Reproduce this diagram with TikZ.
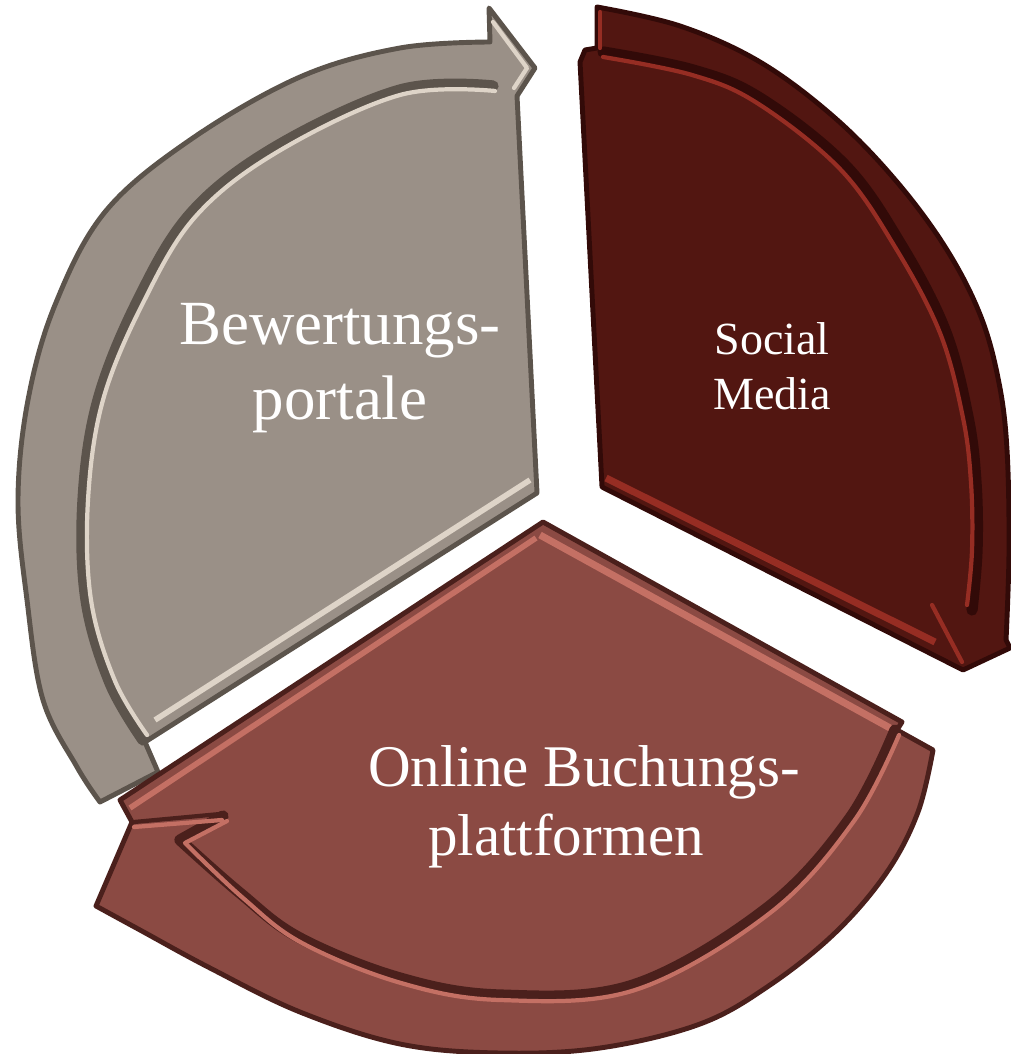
\documentclass[tikz,border=0pt]{standalone}
\usepackage{fontspec}
\setmainfont{Liberation Serif}
\definecolor{grayfill}{RGB}{154,144,135}
\definecolor{grayhi}{RGB}{222,212,200}
\definecolor{graylo}{RGB}{92,84,76}
\definecolor{redfill}{RGB}{82,22,17}
\definecolor{redhi}{RGB}{150,45,35}
\definecolor{redlo}{RGB}{50,10,8}
\definecolor{midfill}{RGB}{139,74,67}
\definecolor{midhi}{RGB}{196,112,100}
\definecolor{midlo}{RGB}{75,32,28}
\tikzset{
  seglabel/.style={text=white, align=center, inner sep=0pt},
  groovelo/.style={line width=3.2pt, line cap=round, line join=round},
  groovehi/.style={line width=1.2pt, line cap=round, line join=round},
  rim/.style={line width=1.4pt, line join=round}
}
\begin{document}
\begin{tikzpicture}[x=0.1mm, y=-0.1mm]
\useasboundingbox (0,0) rectangle (1010,1054);

% ---------- gray segment ----------
\path[fill=grayfill, draw=graylo, rim] (537,493) -- (145,742) -- (158,772) -- (100,802)
  -- plot[smooth, tension=0.6] coordinates {(100,802) (77,767) (43,700) (27,600) (18,500) (28,400) (55,305) (105,212) (190,140) (300,77) (400,48) (490,42)}
  -- (489,8) -- (535,68) -- (517,96) -- cycle;
\draw[grayhi, line width=1.6pt, line join=round] (530,480) -- (155,720);
\draw[graylo, groovelo] plot[smooth, tension=0.6] coordinates {(493,86) (400,90) (277,146) (192,212) (138,300) (98,400) (83,500) (86,600) (110,683) (143,740)};
\draw[grayhi, groovehi] plot[smooth, tension=0.6] coordinates {(495,91) (400,95) (279,151) (196,216) (143,303) (103,400) (88,500) (91,600) (115,681) (147,735)};
\draw[grayhi, groovehi] (493,22) -- (527,68) -- (514,88);

% ---------- dark red segment ----------
\path[fill=redfill, draw=redlo, rim] (602,487) -- (963,670) -- (1010,648) -- (1006,640)
  -- plot[smooth, tension=0.6] coordinates {(1006,640) (1009,550) (1007,450) (999,383) (981,317) (947,250) (897,182) (835,118) (760,62) (680,26) (597,7)}
  -- (597,48) -- (585,50) -- (580,62) -- cycle;
\draw[redhi, line width=2pt, line join=round] (606,478) -- (935,642);
\draw[redlo, groovelo] plot[smooth, tension=0.6] coordinates {(603,52) (693,70) (760,98) (845,165) (900,243) (945,330) (968,417) (976,483) (977,550) (972,610)};
\draw[redhi, groovehi] plot[smooth, tension=0.6] coordinates {(603,57) (692,75) (757,103) (840,169) (895,247) (940,333) (963,418) (971,483) (972,550) (967,605)};
\draw[redhi, groovehi] (932,605) -- (962,662);
\draw[redhi, groovehi] (600,12) -- (600,48);

% ---------- medium segment ----------
\path[fill=midfill, draw=midlo, rim] (543,522) -- (902,722) -- (897,730) -- (933,750)
  -- plot[smooth, tension=0.6] coordinates {(933,750) (918,812) (887,872) (836,932) (770,985) (700,1024) (600,1048) (500,1053) (400,1044) (300,1012) (210,968) (140,930) (96,906)}
  -- (132,822) -- (120,800) -- cycle;
\draw[midhi, line width=2pt, line join=round] (540,535) -- (890,728);
\draw[midhi, line width=1.6pt] (130,808) -- (536,538);
\draw[midlo, groovelo] (223,816) -- (180,840) -- plot[smooth, tension=0.6] coordinates {(180,840) (240,893) (300,938) (400,978) (500,995) (633,985) (767,908) (850,818) (895,730)};
\draw[midhi, groovehi] (227,821) -- (185,843) -- plot[smooth, tension=0.6] coordinates {(185,843) (243,898) (302,943) (401,983) (500,1000) (635,990) (770,913) (854,821) (899,735)};
\draw[midhi, groovehi] (134,827) -- (222,820);
\draw[midlo, groovehi] (134,822) -- (220,814);

% ---------- labels ----------
\node[seglabel, font=\fontsize{17.9}{21.3}\selectfont] (bew) at (340,368) {Bewertungs-\\portale};
\node[seglabel, font=\fontsize{13.1}{15.6}\selectfont] (soc) at (772,366) {Social\\Media};
\node[seglabel, font=\fontsize{16.8}{19}\selectfont, anchor=base] (onl1) at (584,786) {Online Buchungs-};
\node[seglabel, font=\fontsize{16.8}{19}\selectfont, anchor=base] (onl2) at (566,855) {plattformen};
\end{tikzpicture}
\end{document}
